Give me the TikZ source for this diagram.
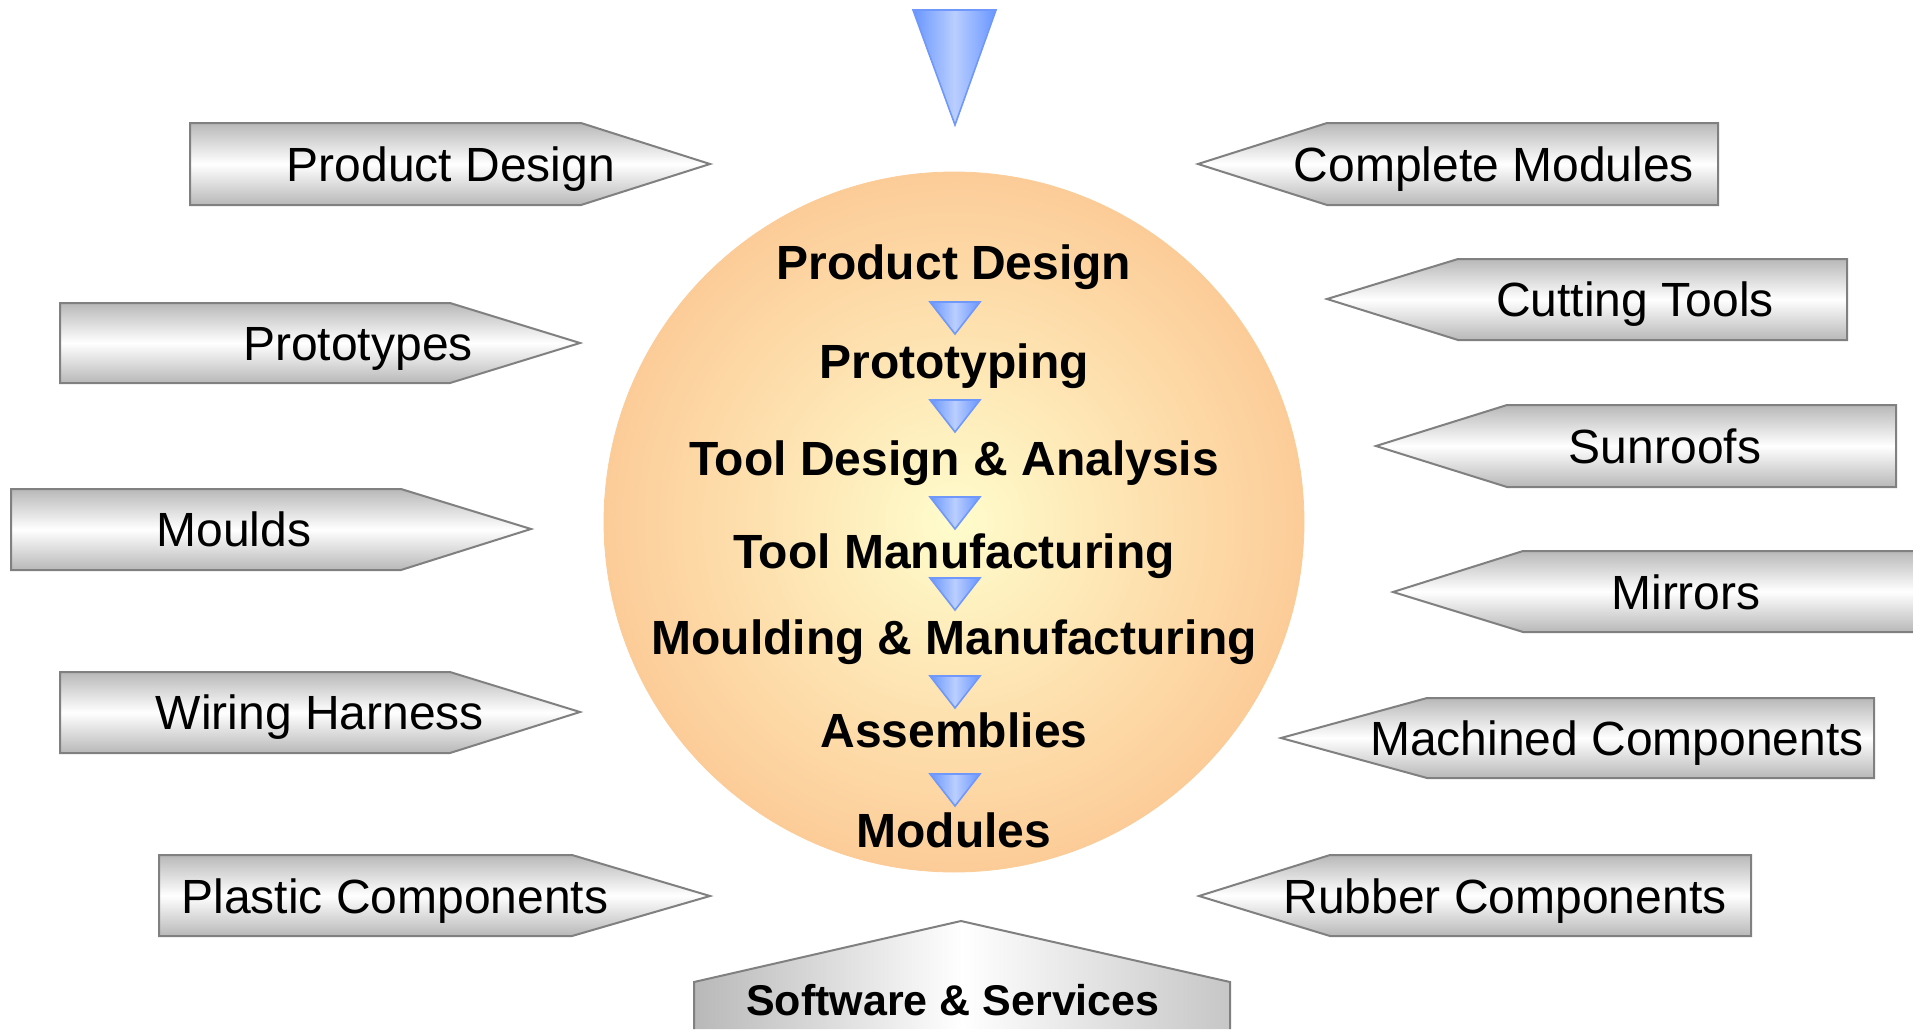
\documentclass[tikz,border=0pt]{standalone}
\usepackage{fontspec}
\setmainfont{Liberation Sans}
\usetikzlibrary{positioning}

\definecolor{tagfill}{RGB}{184,184,184}
\definecolor{tagline}{RGB}{128,128,128}
\definecolor{hubin}{RGB}{255,252,204}
\definecolor{hubout}{RGB}{252,204,152}
\definecolor{wedgeedge}{RGB}{104,150,255}
\definecolor{wedgemid}{RGB}{186,206,255}
\definecolor{wedgeline}{RGB}{112,152,250}

\begin{document}
\begin{tikzpicture}[
        x=0.5pt,y=-0.5pt,
        tag/.style={draw=tagline,line width=1pt,top color=tagfill,bottom color=tagfill,middle color=white},
        roof/.style={left color=tagfill,right color=tagfill!80,middle color=white},
        taglabel/.style={font=\fontsize{24}{28}\selectfont,text height=17.2pt,text depth=0pt,inner sep=0pt},
        stage/.style={font=\fontsize{24}{28}\selectfont\bfseries,text height=17.2pt,text depth=0pt,inner sep=0pt},
        hub/.style={circle,minimum size=350pt,inner sep=0pt,draw=hubout,inner color=hubin,outer color=hubout},
        wedge/.style={draw=wedgeline,line width=0.8pt,left color=wedgeedge,right color=wedgeedge,middle color=wedgemid},
      ]
      \useasboundingbox (0,0) rectangle (1913,1029);

      % input funnel
      \shade[wedge] (913,10) -- (996,10) -- (955,125) -- cycle;

      % the process circle
      \node[hub] (hub) at (954,522) {};
      \node[stage] (s1) at (954,262) {Product Design};
      \node[stage] (s2) at (954,361) {Prototyping};
      \node[stage] (s3) at (954,458) {Tool Design \& Analysis};
      \node[stage] (s4) at (954,551) {Tool Manufacturing};
      \node[stage] (s5) at (954,637) {Moulding \& Manufacturing};
      \node[stage] (s6) at (954,730) {Assemblies};
      \node[stage] (s7) at (954,830) {Modules};

      \shade[wedge] (930,302) -- (980,302) -- (955,334) -- cycle;
      \shade[wedge] (930,400) -- (980,400) -- (955,432) -- cycle;
      \shade[wedge] (930,497) -- (980,497) -- (955,529) -- cycle;
      \shade[wedge] (930,578) -- (980,578) -- (955,610) -- cycle;
      \shade[wedge] (930,676) -- (980,676) -- (955,708) -- cycle;
      \shade[wedge] (930,774) -- (980,774) -- (955,806) -- cycle;

      % services on the left
      \shade[tag] (190,123) -- (581,123) -- (710,164) -- (581,205) -- (190,205) -- cycle;
      \node[taglabel] (pdesign) at (451,164) {Product Design};
      \shade[tag] (60,303) -- (450,303) -- (580,343) -- (450,383) -- (60,383) -- cycle;
      \node[taglabel] (protos) at (358,343) {Prototypes};
      \shade[tag] (11,489) -- (401,489) -- (531,529) -- (401,570) -- (11,570) -- cycle;
      \node[taglabel] (moulds) at (234,529) {Moulds};
      \shade[tag] (60,672) -- (450,672) -- (580,712) -- (450,753) -- (60,753) -- cycle;
      \node[taglabel] (wiring) at (320,712) {Wiring Harness};
      \shade[tag] (159,855) -- (572,855) -- (710,896) -- (572,936) -- (159,936) -- cycle;
      \node[taglabel] (plastic) at (395,896) {Plastic Components};

      % products on the right
      \shade[tag] (1198,164) -- (1327,123) -- (1718,123) -- (1718,205) -- (1327,205) -- cycle;
      \node[taglabel] (modules) at (1494,164) {Complete Modules};
      \shade[tag] (1327,299) -- (1458,259) -- (1847,259) -- (1847,340) -- (1458,340) -- cycle;
      \node[taglabel] (cutting) at (1635,299) {Cutting Tools};
      \shade[tag] (1376,446) -- (1507,405) -- (1896,405) -- (1896,487) -- (1507,487) -- cycle;
      \node[taglabel] (sunroofs) at (1665,446) {Sunroofs};
      \shade[tag] (1393,592) -- (1523,551) -- (1914,551) -- (1914,632) -- (1523,632) -- cycle;
      \node[taglabel] (mirrors) at (1686,592) {Mirrors};
      \shade[tag] (1281,738) -- (1427,698) -- (1874,698) -- (1874,778) -- (1427,778) -- cycle;
      \node[taglabel] (machined) at (1617,738) {Machined Components};
      \shade[tag] (1199,896) -- (1330,855) -- (1751,855) -- (1751,936) -- (1330,936) -- cycle;
      \node[taglabel] (rubber) at (1505,896) {Rubber Components};

      % base
      \shade[roof] (694,1029) -- (694,982) -- (961,921) -- (1230,982) -- (1230,1029) -- cycle;
      \draw[tagline,line width=1pt] (694,1029) -- (694,982) -- (961,921) -- (1230,982) -- (1230,1029);
      \node[stage,font=\fontsize{21.5}{26}\selectfont\bfseries,text height=15.4pt] (software) at (953,1000) {Software \& Services};
    \end{tikzpicture}
\end{document}
